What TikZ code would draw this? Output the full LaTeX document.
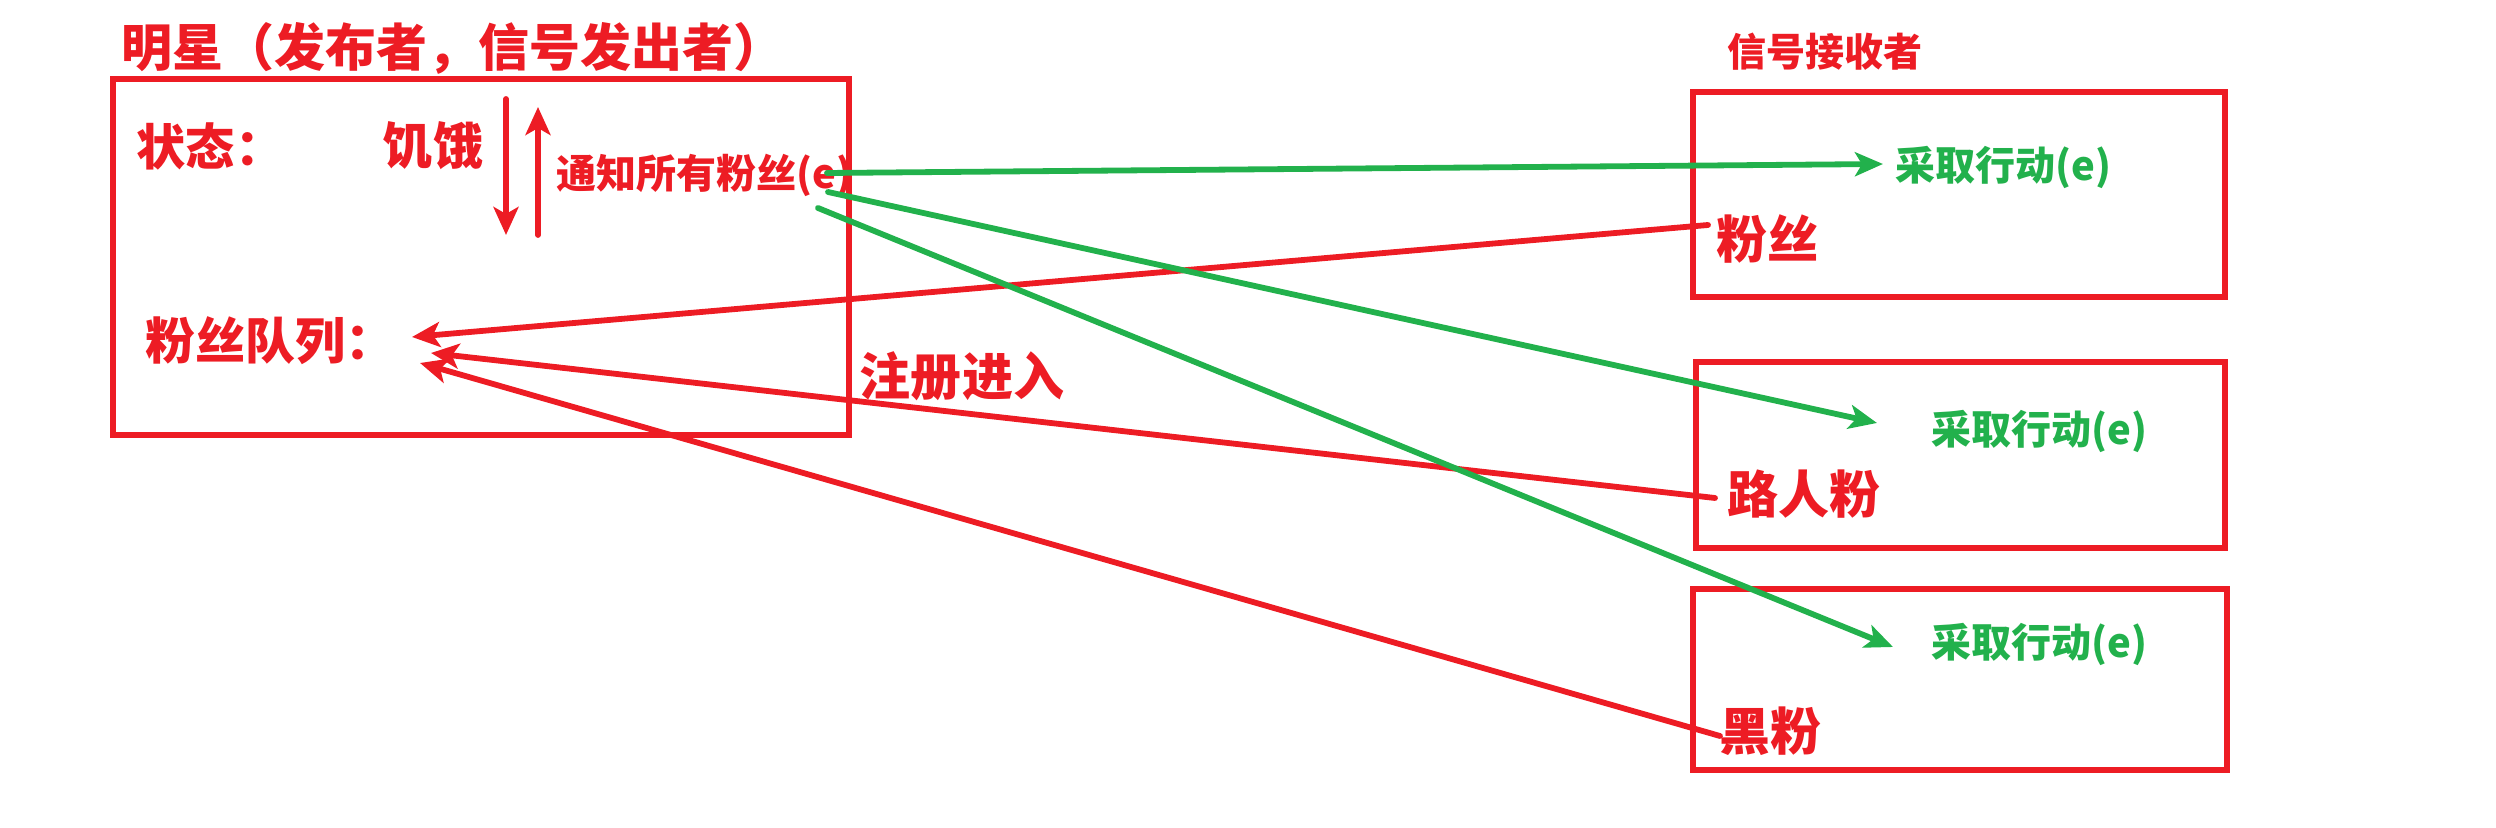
\documentclass[tikz,border=0pt]{standalone}
\usepackage{fontspec}
\newfontfamily\cjk{Noto Sans CJK SC}
\usetikzlibrary{arrows.meta}
\definecolor{pr}{HTML}{ED1C24}
\definecolor{pg}{HTML}{22B14C}
\begin{document}
\begin{tikzpicture}[x=0.01cm,y=-0.01cm,
  frame/.style={draw=pr,line width=0.055cm,inner sep=0pt},
  rtxt/.style={text=pr,inner sep=0pt,font=\cjk\bfseries},
  gtxt/.style={text=pg,inner sep=0pt,font=\cjk\bfseries\fontsize{11.38pt}{13pt}\selectfont},
  rarr/.style={draw=pr,line width=0.058cm,line cap=round,-{Stealth[length=0.28cm,width=0.25cm,inset=0.07cm]}},
  garr/.style={draw=pg,line width=0.058cm,line cap=round,-{Stealth[length=0.28cm,width=0.24cm,inset=0.07cm]}}
]
\useasboundingbox (0,0) rectangle (2496,828);

% boxes
\node[frame, minimum width=7.36cm, minimum height=3.56cm] (star) at (481,257) {};
\node[frame, minimum width=5.32cm, minimum height=2.05cm] (r1) at (1959,194.5) {};
\node[frame, minimum width=5.29cm, minimum height=1.86cm] (r2) at (1960.5,455) {};
\node[frame, minimum width=5.34cm, minimum height=1.81cm] (r3) at (1960,679.5) {};

% texts
\node[rtxt, anchor=west, font=\cjk\bfseries\fontsize{14.5pt}{17pt}\selectfont] (title) at (121,48) {明星（发布者，信号发出者）};
\node[rtxt, anchor=west, font=\cjk\bfseries\fontsize{14pt}{16pt}\selectfont] (state) at (136,146) {状态：};
\node[rtxt, font=\cjk\bfseries\fontsize{14.3pt}{17pt}\selectfont] (hungry) at (433,146) {饥饿};
\node[rtxt, anchor=west, font=\cjk\bfseries\fontsize{11.38pt}{13pt}\selectfont] (notify) at (556,175) {通知所有粉丝(e)};
\node[rtxt, anchor=west, font=\cjk\bfseries\fontsize{14.2pt}{16pt}\selectfont] (queue) at (145,341) {粉丝队列：};
\node[rtxt, font=\cjk\bfseries\fontsize{14.51pt}{17pt}\selectfont] (reg) at (962,376) {注册进入};
\node[rtxt, anchor=west, font=\cjk\bfseries\fontsize{11.1pt}{13pt}\selectfont] (recv) at (1727,52) {信号接收者};

\node[gtxt, anchor=west] (a1) at (1895,167) {采取行动(e)};
\node[gtxt, anchor=west] (a2) at (1931,431) {采取行动(e)};
\node[gtxt, anchor=west] (a3) at (1931,644) {采取行动(e)};

\node[rtxt, anchor=west, font=\cjk\bfseries\fontsize{14.51pt}{17pt}\selectfont] (f1) at (1716,239) {粉丝};
\node[rtxt, anchor=west, font=\cjk\bfseries\fontsize{14.51pt}{17pt}\selectfont] (f2) at (1727,494) {路人粉};
\node[rtxt, anchor=west, font=\cjk\bfseries\fontsize{14.51pt}{17pt}\selectfont] (f3) at (1719,731) {黑粉};

% state arrows
\coordinate (dtop) at (506,99);  \coordinate (dbot) at (506,235);
\coordinate (ubot) at (538,235); \coordinate (utop) at (538,107);
\draw[rarr] (dtop) -- (dbot);
\draw[rarr] (ubot) -- (utop);

% registration arrows
\coordinate (s1) at (1708,225); \coordinate (q1) at (412,337);
\coordinate (s2) at (1715,498); \coordinate (q2) at (431,353);
\coordinate (s3) at (1720,736); \coordinate (q3) at (420,363);
\draw[rarr] (s1) -- (q1);
\draw[rarr] (s2) -- (q2);
\draw[rarr] (s3) -- (q3);

% notify arrows
\coordinate (e1) at (827,173); \coordinate (t1) at (1883,164);
\coordinate (e2) at (828,192); \coordinate (t2) at (1877,423);
\coordinate (e3) at (818,208); \coordinate (t3) at (1893,647);
\draw[garr] (e1) -- (t1);
\draw[garr] (e2) -- (t2);
\draw[garr] (e3) -- (t3);
\end{tikzpicture}
\end{document}
